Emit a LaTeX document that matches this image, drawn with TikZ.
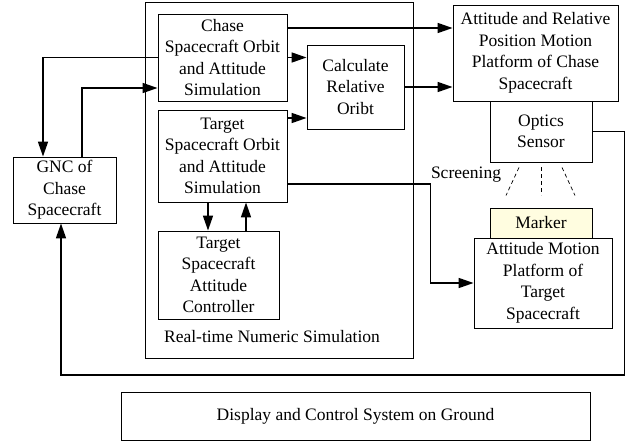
\documentclass[tikz,border=0pt]{standalone}
\usepackage{fontspec}
\setmainfont{Liberation Serif}
\usetikzlibrary{arrows.meta,patterns}

\tikzset{
  box/.style={draw, line width=0.9pt, align=center, inner sep=0pt,
    font=\fontsize{17.5}{21.5}\selectfont},
  link/.style={line width=1.6pt},
  arr/.style={link, -{Triangle[length=15pt,width=10pt]}},
  screen/.style={line width=0.7pt, dash pattern=on 4pt off 3pt},
}

\begin{document}
\begin{tikzpicture}[x=1pt, y=-1pt]
  \useasboundingbox (0,0) rectangle (629,442);

  % Real-time numeric simulation frame
  \node[box, minimum width=268pt, minimum height=356pt] (sim) at (279,180) {};
  \node[box, draw=none] (simlabel) at (272,337) {Real-time Numeric Simulation};

  % Blocks inside the simulation
  \node[box, minimum width=129pt, minimum height=87pt] (chase) at (222.5,57.5)
    {Chase\\Spacecraft Orbit\\and Attitude\\Simulation};
  \node[box, minimum width=129pt, minimum height=92pt] (tgt) at (222.5,156)
    {Target\\Spacecraft Orbit\\and Attitude\\Simulation};
  \node[box, minimum width=97pt, minimum height=84pt] (calc) at (355.5,87)
    {Calculate\\Relative\\Oribt};
  \node[box, minimum width=121pt, minimum height=88pt] (ctrl) at (218.5,275)
    {Target\\Spacecraft\\Attitude\\Controller};

  % GNC
  \node[box, minimum width=103pt, minimum height=66pt] (gnc) at (64.5,190)
    {GNC of\\Chase\\Spacecraft};

  % Hardware on the right
  \node[box, minimum width=165pt, minimum height=96pt] (plat) at (535.5,53)
    {Attitude and Relative\\Position Motion\\Platform of Chase\\Spacecraft};
  \node[box, minimum width=102pt, minimum height=61pt] (optics) at (541,131.5)
    {Optics\\Sensor};
  \node[box, minimum width=102pt, minimum height=30pt,
    fill=yellow!12, pattern color=yellow!60] (marker) at (541,223) {Marker};
  \node[box, minimum width=138pt, minimum height=90pt, fill=white] (tplat) at (543,283)
    {Attitude Motion\\Platform of\\Target\\Spacecraft};

  % Ground
  \node[box, minimum width=469pt, minimum height=48pt] (ground) at (355.5,416)
    {Display and Control System on Ground};

  % Screening
  \node[box, draw=none] (scr) at (466,175) {Screening};
  \draw[screen] ([xshift=-22pt,yshift=-5pt]optics.south) -- ++(-13,28);
  \draw[screen] ([yshift=-5pt]optics.south) -- ++(0,28);
  \draw[screen] ([xshift=21pt,yshift=-5pt]optics.south) -- ++(13,28);

  % Connections
  \coordinate (c1) at ([yshift=29.5pt]chase.east);
  \draw[arr] (c1) -- (c1 -| plat.west);
  \draw[arr] (chase.east) -- (chase.east -| calc.west);
  \coordinate (t1) at ([yshift=38pt]tgt.east);
  \draw[arr] (t1) -- (t1 -| calc.west);
  \draw[arr] (calc.east) -- (calc.east -| plat.west);

  \draw[arr] (chase.west) -| ([xshift=-21.5pt]gnc.north);
  \draw[arr] ([xshift=17.5pt]gnc.north) |- ([yshift=-30.5pt]chase.west);

  \draw[arr] ([yshift=-28pt]tgt.east) -- ++(143,0) |- (tplat.west);

  \coordinate (t2) at ([xshift=-14.5pt]tgt.south);
  \draw[arr] (t2) -- (t2 |- ctrl.north);
  \coordinate (k1) at ([xshift=27.5pt]ctrl.north);
  \draw[arr] (k1) -- (k1 |- tgt.south);

  \draw[arr] (optics.east) -- ++(32,0) -- ++(0,243.5)
    -| ([xshift=-3.5pt]gnc.south);
\end{tikzpicture}
\end{document}
